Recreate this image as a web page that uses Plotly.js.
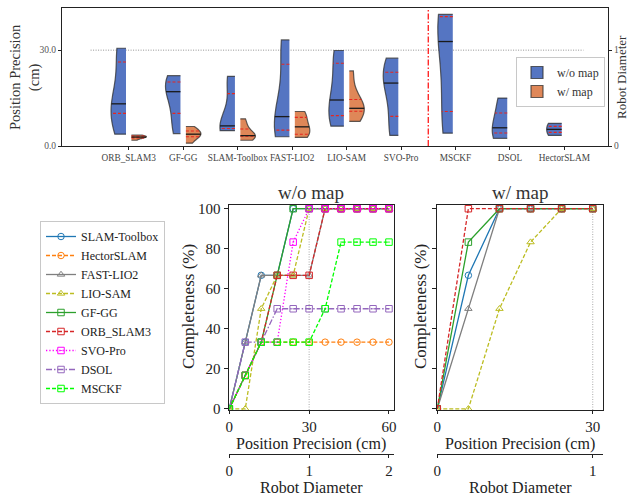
<!DOCTYPE html>
<html><head><meta charset="utf-8">
<script src="https://cdn.plot.ly/plotly-3.0.1.min.js"></script>
<style>html,body{margin:0;padding:0;background:#fff}#chart{width:629px;height:495px}</style>
</head><body><div id="chart"></div>
<script>
// ---------- DATA ----------
const CATS = ['ORB_SLAM3','GF-GG','SLAM-Toolbox','FAST-LIO2','LIO-SAM','SVO-Pro','MSCKF','DSOL','HectorSLAM'];

// Position precision per run (cm), without map
const ORB_WO   = [3.7, 9.6, 12.1, 14.3, 30.3, 30.6];
const GFGG_WO  = [3.9, 8.3, 16.0, 18.0, 20.7, 22.0];
const SLAMTB_WO= [4.8, 5.3, 6.1, 6.5, 19.7, 21.8];
const FLIO_WO  = [2.9, 4.3, 7.0, 11.4, 30.3, 33.2];
const LIOSAM_WO= [6.2, 9.0, 11.0, 17.8, 28.6, 29.9];
const SVO_WO   = [3.3, 6.2, 18.5, 20.9, 23.8, 27.5];
const MSCKF_WO = [4.0, 10.8, 32.7, 40.5, 41.2];
const DSOL_WO  = [2.4, 5.7, 15.0];
const HECTOR_WO= [3.3, 7.1];

// Position precision per run (cm), with map
const ORB_W    = [1.8, 2.5, 2.7, 2.9, 3.2, 3.4];
const GFGG_W   = [0.9, 2.7, 3.4, 4.0, 4.9, 6.1];
const SLAMTB_W = [1.8, 3.0, 3.15, 3.35, 5.95, 8.5];
const FLIO_W   = [2.7, 3.1, 5.5, 6.5, 9.8, 10.8];
const LIOSAM_W = [7.7, 10.7, 11.5, 12.1, 15.4, 23.5];

// Completeness (%) vs precision threshold (cm)
const THRESH_WO = [0, 6, 12, 18, 24, 30, 36, 42, 48, 54, 60];
const THRESH_W  = [0, 6, 12, 18, 24, 30];

const COMP_WO_SLAMTB = [0, 33.3, 66.7, 66.7, 100, 100, 100, 100, 100, 100, 100];
const COMP_WO_HECTOR = [0, 16.7, 33.3, 33.3, 33.3, 33.3, 33.3, 33.3, 33.3, 33.3, 33.3];
const COMP_WO_FLIO   = [0, 33.3, 66.7, 66.7, 66.7, 66.7, 100, 100, 100, 100, 100];
const COMP_WO_LIOSAM = [0, 0, 50, 66.7, 66.7, 100, 100, 100, 100, 100, 100];
const COMP_WO_GFGG   = [0, 16.7, 33.3, 66.7, 100, 100, 100, 100, 100, 100, 100];
const COMP_WO_ORB    = [0, 16.7, 33.3, 66.7, 66.7, 66.7, 100, 100, 100, 100, 100];
const COMP_WO_SVO    = [0, 16.7, 33.3, 33.3, 83.3, 100, 100, 100, 100, 100, 100];
const COMP_WO_DSOL   = [0, 33.3, 33.3, 50, 50, 50, 50, 50, 50, 50, 50];
const COMP_WO_MSCKF  = [0, 16.7, 33.3, 33.3, 33.3, 33.3, 50, 83.3, 83.3, 83.3, 83.3];

const COMP_W_SLAMTB = [0, 66.7, 100, 100, 100, 100];
const COMP_W_FLIO   = [0, 50, 100, 100, 100, 100];
const COMP_W_LIOSAM = [0, 0, 50, 83.3, 100, 100];
const COMP_W_GFGG   = [0, 83.3, 100, 100, 100, 100];
const COMP_W_ORB    = [0, 100, 100, 100, 100, 100];

const THRESH_CM = 30;      // 1 robot diameter = 30 cm
const SPLIT_AT = 5.5;      // separator between SVO-Pro and MSCKF

// ---------- BUILD ----------
const PREC_WO = [ORB_WO, GFGG_WO, SLAMTB_WO, FLIO_WO, LIOSAM_WO, SVO_WO, MSCKF_WO, DSOL_WO, HECTOR_WO];
const PREC_W  = [ORB_W, GFGG_W, SLAMTB_W, FLIO_W, LIOSAM_W, null, null, null, null];

const FONT = 'Liberation Serif, DejaVu Serif, serif';
const BLUE = '#5575C2', ORANGE = '#DF8758';
const VW = 0.55, GAP = 0.05;
const YMAX = 43.2;

function quantile(arr, p){
  const s = [...arr].sort((a,b)=>a-b);
  const pos = p*(s.length-1), lo = Math.floor(pos), hi = Math.ceil(pos);
  return s[lo] + (s[hi]-s[lo])*(pos-lo);
}
function sdev(arr){
  const m = arr.reduce((a,b)=>a+b,0)/arr.length;
  return Math.sqrt(arr.reduce((a,b)=>a+(b-m)*(b-m),0)/(arr.length-1));
}
function scottBw(arr){ return sdev(arr)*Math.pow(arr.length,-0.2); }
function kde(arr,h){ return x => arr.reduce((s,v)=>s+Math.exp(-0.5*((x-v)/h)*((x-v)/h)),0); }

const traces = [];
const qx=[], qy=[], mx=[], my=[];
let shownWo=false, shownW=false;
CATS.forEach((c,i)=>{
  const sets = [
    {vals:PREC_WO[i], side:'negative', off:-GAP, col:BLUE, nm:'w/o map', grp:'wo', sign:-1},
    {vals:PREC_W[i],  side:'positive', off: GAP, col:ORANGE, nm:'w/ map', grp:'w', sign:1}
  ];
  sets.forEach(st=>{
    if(!st.vals) return;
    const h = scottBw(st.vals);
    const first = st.grp==='wo' ? !shownWo : !shownW;
    if(st.grp==='wo') shownWo=true; else shownW=true;
    const pos = i + st.off;
    traces.push({
      type:'violin', x0:pos, y:st.vals, side:st.side, width:VW, bandwidth:h,
      spanmode:'hard', points:false, scalemode:'width', scalegroup:'g'+i+st.grp,
      fillcolor:st.col, line:{color:'rgba(45,45,45,0.75)', width:1.2},
      box:{visible:false}, meanline:{visible:false},
      name:st.nm, legend:'legend2', legendgroup:st.grp, showlegend:first,
      hoverinfo:'skip', xaxis:'x', yaxis:'y'
    });
    const f = kde(st.vals,h);
    const lo = Math.min(...st.vals), hi = Math.max(...st.vals);
    let mk = 0;
    for(let k=0;k<=600;k++){ mk = Math.max(mk, f(lo+(hi-lo)*k/600)); }
    [0.25,0.5,0.75].forEach(p=>{
      const q = quantile(st.vals,p);
      const len = f(q)/mk*VW/2;
      const X = (p===0.5)?mx:qx, Y=(p===0.5)?my:qy;
      X.push(pos, pos+st.sign*len, null); Y.push(q,q,null);
    });
  });
});
traces.push({type:'scatter', mode:'lines', x:qx, y:qy, xaxis:'x', yaxis:'y', line:{color:'#e8261f', width:1.1, dash:'3px,2px'}, showlegend:false, hoverinfo:'skip'});
traces.push({type:'scatter', mode:'lines', x:mx, y:my, xaxis:'x', yaxis:'y', line:{color:'#1a1a1a', width:1.3}, showlegend:false, hoverinfo:'skip'});

const SERIES = [
  {name:'SLAM-Toolbox', color:'#1f77b4', dash:'solid', symbol:'circle-open', wo:COMP_WO_SLAMTB, w:COMP_W_SLAMTB},
  {name:'HectorSLAM', color:'#ff7f0e', dash:'4px,2px', symbol:'circle-open', wo:COMP_WO_HECTOR, w:null},
  {name:'FAST-LIO2', color:'#7f7f7f', dash:'solid', symbol:'triangle-up-open', wo:COMP_WO_FLIO, w:COMP_W_FLIO},
  {name:'LIO-SAM', color:'#bcbd22', dash:'4px,2px', symbol:'triangle-up-open', wo:COMP_WO_LIOSAM, w:COMP_W_LIOSAM},
  {name:'GF-GG', color:'#2ca02c', dash:'solid', symbol:'square-open', wo:COMP_WO_GFGG, w:COMP_W_GFGG},
  {name:'ORB_SLAM3', color:'#d62728', dash:'4px,2px', symbol:'square-open', wo:COMP_WO_ORB, w:COMP_W_ORB},
  {name:'SVO-Pro', color:'#ff00ff', dash:'1.3px,2px', symbol:'square-open-dot', wo:COMP_WO_SVO, w:null},
  {name:'DSOL', color:'#9467bd', dash:'6px,2px,1.5px,2px', symbol:'square-open-dot', wo:COMP_WO_DSOL, w:null},
  {name:'MSCKF', color:'#00ff00', dash:'4px,2px', symbol:'square-open-dot', wo:COMP_WO_MSCKF, w:null}
];
SERIES.forEach(s=>{
  const base = {type:'scatter', mode:'lines+markers', name:s.name, legendgroup:s.name,
    line:{color:s.color, width:1.3, dash:s.dash},
    marker:{symbol:s.symbol, size:6.5, color:s.color, line:{width:1, color:s.color}},
    hoverinfo:'skip'};
  traces.push(Object.assign({}, base, {x:THRESH_WO, y:s.wo, xaxis:'x2', yaxis:'y3', legend:'legend'}));
  if(s.w) traces.push(Object.assign({}, base, {x:THRESH_W, y:s.w, xaxis:'x3', yaxis:'y4', showlegend:false}));
});
// axis carriers for overlay axes
traces.push({type:'scatter', x:[], y:[], xaxis:'x', yaxis:'y2', showlegend:false, hoverinfo:'skip'});
traces.push({type:'scatter', x:[], y:[], xaxis:'x4', yaxis:'y3', showlegend:false, hoverinfo:'skip'});
traces.push({type:'scatter', x:[], y:[], xaxis:'x5', yaxis:'y4', showlegend:false, hoverinfo:'skip'});

// ---------- LAYOUT ----------
const W=629, H=495;
const P = px=>px/W, Q = py=>1-py/H;
const X2R = [-0.3, 62], X3R = [-0.15, 32];
const YB = [-0.6, 102];
const common = {showgrid:false, zeroline:false, showline:true, linecolor:'#222', linewidth:1, ticks:'outside', tickcolor:'#222'};
const btick = {size:15, color:'#222', family:FONT};

const layout = {
  width:W, height:H, margin:{l:0,r:0,t:0,b:0},
  paper_bgcolor:'#fff', plot_bgcolor:'#fff',
  font:{family:FONT, color:'#222'},
  showlegend:true, violinmode:'overlay', violingap:0, violingroupgap:0,
  hovermode:false,
  xaxis:Object.assign({}, common, {domain:[P(62),P(608)], anchor:'y', type:'linear', range:[-1.225,8.8],
    tickvals:CATS.map((_,i)=>i), ticktext:CATS, ticklen:3, mirror:true, tickfont:{size:9.3,color:'#444',family:FONT}}),
  yaxis:Object.assign({}, common, {domain:[Q(146),Q(8)], anchor:'x', range:[0,YMAX],
    tickvals:[0,30], ticktext:['0.0','30.0'], ticklen:3, mirror:true, tickfont:{size:9.5,color:'#555',family:FONT}}),
  yaxis2:{overlaying:'y', side:'right', anchor:'x', range:[0,YMAX/THRESH_CM], tickvals:[0,1], ticktext:['0','1'],
    ticks:'outside', ticklen:3, tickcolor:'#222', showgrid:false, zeroline:false, showline:false,
    tickfont:{size:9.5,color:'#555',family:FONT}},
  xaxis2:Object.assign({}, common, {domain:[P(228.5),P(394.3)], anchor:'y3', range:X2R, tickvals:[0,30,60], ticklen:3, mirror:true, tickfont:btick}),
  yaxis3:Object.assign({}, common, {domain:[Q(410),Q(204.7)], anchor:'x2', range:YB, tickvals:[0,20,40,60,80,100], ticklen:4, mirror:true, tickfont:btick}),
  xaxis3:Object.assign({}, common, {domain:[P(436.5),P(603.1)], anchor:'y4', range:X3R, tickvals:[0,30], ticklen:3, mirror:true, tickfont:btick}),
  yaxis4:Object.assign({}, common, {domain:[Q(410),Q(204.7)], anchor:'x3', range:YB, tickvals:[0,20,40,60,80,100], ticklen:4, mirror:true, showticklabels:false}),
  xaxis4:Object.assign({}, common, {overlaying:'x2', anchor:'free', position:Q(454), side:'bottom',
    range:X2R.map(v=>v/THRESH_CM), tickvals:[0,1,2], ticklen:3, tickfont:btick}),
  xaxis5:Object.assign({}, common, {overlaying:'x3', anchor:'free', position:Q(454), side:'bottom',
    range:X3R.map(v=>v/THRESH_CM), tickvals:[0,1], ticklen:3, tickfont:btick}),
  legend:{x:P(40), y:Q(221), xanchor:'left', yanchor:'top', bgcolor:'#fff', bordercolor:'#c8c8c8', borderwidth:1,
    font:{size:12, family:FONT, color:'#222'}, tracegroupgap:0, itemwidth:30},
  legend2:{x:P(516), y:Q(57), xanchor:'left', yanchor:'top', bgcolor:'rgba(255,255,255,0.9)', bordercolor:'#c8c8c8', borderwidth:1,
    font:{size:12, family:FONT, color:'#333'}, tracegroupgap:0},
  shapes:[
    {type:'line', layer:'below', xref:'x', yref:'y', x0:-0.7, x1:8.35, y0:THRESH_CM, y1:THRESH_CM, line:{color:'#777', width:0.8, dash:'1px,1.5px'}},
    {type:'line', layer:'above', xref:'x', yref:'y domain', x0:SPLIT_AT, x1:SPLIT_AT, y0:0, y1:1, line:{color:'#ff1a1a', width:1.3, dash:'6px,2px,1.5px,2px'}},
    {type:'line', layer:'below', xref:'x2', yref:'y3 domain', x0:THRESH_CM, x1:THRESH_CM, y0:0, y1:1, line:{color:'#aaa', width:1, dash:'1px,1.5px'}},
    {type:'line', layer:'below', xref:'x3', yref:'y4 domain', x0:THRESH_CM, x1:THRESH_CM, y0:0, y1:1, line:{color:'#aaa', width:1, dash:'1px,1.5px'}}
  ],
  annotations:[
    {text:'Position Precision<br>(cm)', xref:'paper', yref:'paper', x:P(25), y:Q(77), textangle:-90, xanchor:'center', yanchor:'middle', showarrow:false, font:{size:14.5, color:'#333', family:FONT}},
    {text:'Robot Diameter', xref:'paper', yref:'paper', x:P(621), y:Q(77), textangle:-90, xanchor:'center', yanchor:'middle', showarrow:false, font:{size:13, color:'#333', family:FONT}},
    {text:'w/o map', xref:'paper', yref:'paper', x:P(311.4), y:Q(192), xanchor:'center', yanchor:'middle', showarrow:false, font:{size:19, color:'#333', family:FONT}},
    {text:'w/ map', xref:'paper', yref:'paper', x:P(520), y:Q(192), xanchor:'center', yanchor:'middle', showarrow:false, font:{size:19, color:'#333', family:FONT}},
    {text:'Completeness (%)', xref:'paper', yref:'paper', x:P(188), y:Q(307), textangle:-90, xanchor:'center', yanchor:'middle', showarrow:false, font:{size:17, color:'#222', family:FONT}},
    {text:'Completeness (%)', xref:'paper', yref:'paper', x:P(420), y:Q(307), textangle:-90, xanchor:'center', yanchor:'middle', showarrow:false, font:{size:17, color:'#222', family:FONT}},
    {text:'Position Precision (cm)', xref:'paper', yref:'paper', x:P(311.4), y:Q(444), xanchor:'center', yanchor:'middle', showarrow:false, font:{size:16, color:'#222', family:FONT}},
    {text:'Position Precision (cm)', xref:'paper', yref:'paper', x:P(520), y:Q(444), xanchor:'center', yanchor:'middle', showarrow:false, font:{size:16, color:'#222', family:FONT}},
    {text:'Robot Diameter', xref:'paper', yref:'paper', x:P(311.4), y:Q(487.5), xanchor:'center', yanchor:'middle', showarrow:false, font:{size:16, color:'#222', family:FONT}},
    {text:'Robot Diameter', xref:'paper', yref:'paper', x:P(520), y:Q(487.5), xanchor:'center', yanchor:'middle', showarrow:false, font:{size:16, color:'#222', family:FONT}}
  ]
};

Plotly.newPlot('chart', traces, layout, {staticPlot:true, displayModeBar:false});
</script>
</body></html>
